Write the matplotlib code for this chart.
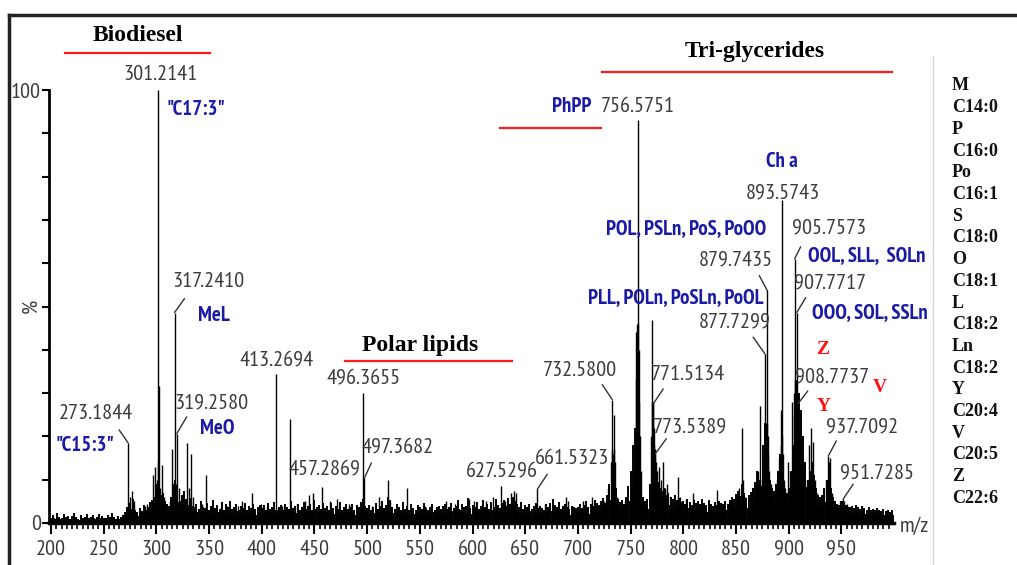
import numpy as np
import matplotlib.pyplot as plt
from matplotlib import font_manager

# mass spectrum: m/z and relative intensity (%) of the main peaks
peak_mz = [273.2, 275, 277, 279, 289, 291, 297, 299, 300.5, 301.2, 301.7, 302.2, 303, 305, 307,
           313, 315, 316.5, 317.2, 318.2, 319.3, 321, 329, 331, 333, 335, 343, 347, 353, 361,
           367, 377, 381, 391, 399, 405, 413.3, 419, 427, 433, 441, 445, 449, 457.3, 465, 471,
           483, 496.4, 497.4, 505, 511, 520, 522, 538, 555, 575, 583, 597, 601, 613, 619,
           627.5, 631, 637, 639, 641, 661.5, 669, 689, 691, 705, 713, 725, 729,
           731.6, 732.1, 732.6, 733.1, 734.1, 734.6, 735.1, 737, 745, 753,
           755, 755.6, 756.1, 756.6, 757.1, 757.6, 758.2, 759, 760, 763,
           769.5, 770.0, 770.5, 771.0, 771.5, 772.0, 772.5, 773.0, 773.5, 774.5, 775, 777, 779,
           781, 783, 785, 787, 795, 797, 803, 809, 832, 845, 851, 853, 856, 857, 859, 865, 869,
           871, 873, 875, 876.7, 877.2, 877.7, 878.2, 878.7, 879.2, 879.7, 880.2, 880.7, 881.7,
           883, 885, 887, 889, 891, 892.6, 893.1, 893.6, 894.1, 894.6, 895.6, 897, 899, 901,
           903.6, 904.7, 905.2, 905.7, 906.2, 906.7, 907.2, 907.7, 908.2, 908.7, 909.5, 911, 913,
           917, 919, 921, 922, 923, 925, 927, 931, 935, 937.7, 938.7, 939.7, 941, 943, 949,
           951.7, 953, 955, 961, 965, 971, 985]
peak_int = [18.5, 6, 7.5, 5, 4, 4.5, 11, 13, 10, 100, 14, 31.7, 8, 13.5, 6,
            5, 17, 9, 48.6, 9, 20.6, 8, 18.5, 8, 16, 6, 4.5, 11, 4, 4,
            4, 4, 5, 7, 4.5, 4, 34.5, 4, 24, 4.5, 5, 6.5, 7, 8.3, 5, 5.5,
            4.5, 30, 10.4, 4, 6, 10, 5, 8, 4, 5, 4.5, 5.5, 5, 5, 6,
            8.5, 5, 7, 7.5, 7, 7.8, 4.5, 6, 5, 5, 6, 5, 8,
            14, 17, 28.5, 16, 17, 25, 14, 6, 5, 12,
            33, 44, 46, 93, 46, 40, 28, 20, 12, 5,
            20, 46.8, 28, 28, 27.5, 22, 18, 17, 16, 14, 12, 13, 10,
            14, 8, 9, 6, 10.6, 6, 5.5, 7, 7.6, 5, 6, 8, 22, 10, 6, 7, 9,
            12, 27, 10, 15, 20, 39, 22, 23, 23, 53.7, 20, 16, 12,
            9, 6, 6, 10, 15, 18, 26, 74.5, 20, 16, 10, 8, 14, 12,
            28, 25, 30, 61, 33, 33, 33, 48.6, 30, 27.5, 20, 12, 8,
            10, 18, 22, 14, 18.7, 10, 7, 6, 10, 15.5, 14, 15, 7, 5, 5,
            5.5, 5, 4.5, 3.5, 3.5, 3, 3]

# baseline noise, one value every 2 m/z from 200 to 998
noise_mz = np.arange(200, 1000, 2)
noise_int = [1.2, 1.8, 1.0, 2.2, 1.5, 1.1, 2.0, 1.4, 1.7, 1.0, 1.6, 2.4, 1.3, 1.0, 1.9, 1.2, 1.5, 2.1, 1.1, 1.4,
             1.8, 1.0, 1.3, 2.0, 1.6, 1.2, 1.1, 1.9, 1.4, 2.3, 1.5, 1.0, 1.7, 1.3, 1.8, 2.6, 3.8, 4.6, 3.2, 5.5,
             3.0, 2.6, 3.4, 2.8, 4.2, 3.1, 3.6, 4.8, 5.2, 6.0,
             9.0, 8.0, 6.5, 7.0, 5.0, 4.5, 4.0, 6.0, 9.0, 10.0, 8.0, 5.0, 6.5, 7.5, 5.5, 4.2, 5.8, 4.0, 3.6, 4.4,
             3.2, 5.0, 3.8, 3.4, 4.6, 3.0, 3.9, 5.2, 3.5, 4.1, 3.3, 4.8, 3.0, 4.3, 3.6, 5.1, 3.2, 3.8, 4.5, 3.1,
             4.0, 3.4, 4.7, 3.0, 3.9, 3.5, 4.4, 3.2, 3.7, 4.2,
             3.5, 4.1, 3.0, 4.6, 3.3, 3.8, 4.9, 3.1, 3.6, 4.2, 3.0, 4.4, 3.7, 3.2, 5.0, 3.5, 3.9, 4.3, 3.1, 3.6,
             4.8, 3.3, 3.9, 4.5, 3.0, 5.4, 3.6, 4.1, 3.2, 4.7, 3.4, 3.9, 3.0, 4.6, 3.5, 4.0, 3.3, 4.8, 3.1, 3.7,
             4.3, 3.2, 3.8, 4.5, 3.0, 4.1, 3.6, 4.9, 5.5, 4.0,
             3.4, 4.2, 3.1, 3.8, 4.6, 3.2, 3.9, 5.0, 3.5, 4.1, 6.0, 5.2, 3.8, 3.2, 4.4, 3.6, 3.0, 4.8, 3.3, 3.9,
             3.1, 4.5, 3.4, 3.0, 4.1, 3.6, 3.2, 4.7, 3.5, 3.0, 3.8, 4.3, 3.1, 3.6, 4.0, 3.3, 3.9, 4.4, 3.2, 3.7,
             4.6, 3.4, 3.9, 5.2, 3.1, 4.5, 3.6, 4.0, 5.8, 3.5,
             4.2, 3.6, 4.8, 3.3, 4.0, 5.4, 3.7, 4.4, 3.2, 4.9, 3.8, 5.6, 4.1, 3.5, 4.6, 5.2, 3.9, 5.8, 4.3, 6.0,
             5.1, 4.4, 3.6, 4.8, 3.3, 4.1, 3.7, 4.5, 3.2, 3.9, 4.6, 3.4, 4.0, 3.5, 3.1, 4.3, 3.8, 4.7, 5.5, 4.2,
             3.6, 4.9, 3.3, 3.9, 4.4, 3.6, 3.2, 4.0, 3.7, 3.4,
             3.8, 4.5, 3.4, 4.1, 5.0, 3.6, 4.4, 3.9, 5.2, 4.7, 4.2, 5.0, 5.8, 4.6, 6.4, 9.0, 14.0, 12.0, 8.0, 5.5,
             4.8, 5.2, 4.4, 6.0, 8.5, 12.0, 18.0, 22.0, 14.0, 9.0, 7.0, 6.0, 5.0, 5.5, 9.0, 14.0, 12.0, 10.0, 9.5, 8.0,
             7.5, 8.0, 6.5, 7.0, 6.0, 5.5, 6.5, 5.2, 5.8, 4.8,
             5.0, 4.4, 5.6, 4.8, 4.2, 5.2, 4.6, 5.0, 4.3, 5.5, 4.7, 4.1, 5.3, 4.5, 4.0, 4.8, 4.2, 5.1, 4.6, 4.4,
             5.0, 4.3, 5.4, 6.0, 5.5, 6.8, 7.5, 6.2, 9.0, 7.0, 5.8, 6.4, 7.2, 8.0, 9.5, 12.0, 10.0, 8.5, 18.0, 23.0,
             14.0, 10.0, 8.0, 7.5, 9.0, 12.0, 16.0, 11.0, 8.5, 7.0,
             8.0, 12.0, 18.0, 24.0, 30.0, 30.0, 26.0, 20.0, 14.0, 10.0, 12.0, 14.0, 11.0, 8.0, 6.5, 6.0, 6.5, 8.0, 10.0, 11.0,
             8.0, 6.0, 5.0, 4.5, 4.2, 5.0, 5.0, 4.2, 3.8, 3.6, 4.0, 3.5, 4.2, 3.6, 3.2, 3.9, 3.4, 3.0, 3.6, 3.1,
             3.3, 2.9, 3.5, 3.0, 2.8, 3.2, 2.7, 3.0, 2.6, 2.9]

# labelled peaks: text, peak m/z, peak height, text position, leader offset (pixels)
mz_labels = ["273.1844", "301.2141", "317.2410", "319.2580", "413.2694", "457.2869", "496.3655",
             "497.3682", "627.5296", "661.5323", "732.5800", "756.5751", "771.5134", "773.5389",
             "877.7299", "879.7435", "893.5743", "905.7573", "907.7717", "908.7737", "937.7092", "951.7285"]
label_peak_mz = [273.2, 301.2, 317.2, 319.3, 413.3, 457.3, 496.4, 497.4, 627.5, 661.5, 732.6, 756.6,
                 771.5, 773.5, 877.7, 879.7, 893.6, 905.7, 907.7, 908.7, 937.7, 951.7]
label_peak_int = [18.5, 100, 48.6, 20.6, 34.5, 8.3, 30, 10.4, 8.5, 7.8, 28.5, 93, 27.5, 16,
                  39, 53.7, 74.5, 61, 48.6, 27.5, 15.5, 5.5]
label_x = [242.7, 303.4, 349.0, 351.8, 414.4, 460.0, 497.0, 529.2, 627.9, 694.3, 701.9, 756.9,
           804.4, 806.3, 849.0, 849.9, 894.5, 938.1, 939.1, 941.0, 969.5, 983.7]
label_y = [25.4, 103.5, 55.7, 27.7, 37.4, 12.2, 33.3, 17.3, 11.8, 15.0, 35.3, 96.1,
           34.2, 22.2, 46.4, 60.7, 76.2, 68.1, 55.4, 33.7, 22.2, 11.5]
leader_dx = [-9, 0, 10, 10, 0, 0, 0, 7, 0, 10, -10, 0, 10, 11, -12, -8, 0, 6, 9, 10, 8, 10]
leader_dy = [13, 0, 14, 17, 0, 0, 0, 15, 0, 15, 15, 0, 15, 15, 17, 15, 0, 12, 15, 13, 15, 15]

# blue compound annotations
blue_labels = ['"C17:3"', 'MeL', '"C15:3"', 'MeO', 'PhPP', 'POL, PSLn, PoS, PoOO',
               'PLL, POLn, PoSLn, PoOL', 'Ch a', 'OOL, SLL,  SOLn', 'OOO, SOL, SSLn']
blue_x = [337.6, 354.6, 232.3, 357.5, 694.3, 802.5, 793.0, 893.5, 974.2, 977.0]
blue_y = [95.4, 48.0, 18.0, 21.9, 96.1, 68.1, 52.0, 83.4, 61.7, 48.5]

# section headings with red rule underneath
sections = ["Biodiesel", "Tri-glycerides", "Polar lipids"]
section_x = [282.5, 868.0, 550.0]
section_y = [112.7, 108.8, 41.1]
rule_start = [213.3, 722.8, 478.9, 626.0]
rule_end = [350.9, 997.9, 637.4, 721.8]
rule_y = [108.5, 104.2, 37.4, 91.2]

red_letters = ["Z", "V", "Y"]
red_x = [932.4, 986.5, 933.4]
red_y = [40.0, 31.4, 26.8]

legend_lines = ["M", "C14:0", "P", "C16:0", "Po", "C16:1", "S", "C18:0", "O", "C18:1",
                "L", "C18:2", "Ln", "C18:2", "Y", "C20:4", "V", "C20:5", "Z", "C22:6"]

names = {f.name for f in font_manager.fontManager.ttflist}
narrow = "Liberation Sans"
for cand in ["Liberation Sans Narrow", "Arial Narrow", "PT Sans Narrow", "Roboto Condensed",
             "Archivo Narrow", "Asap Condensed"]:
    if cand in names:
        narrow = cand
        break
serif = "Times New Roman" if "Times New Roman" in names else "Liberation Serif"
gray = "#3e3a40"
blue = "#1a1aa6"

fig = plt.figure(figsize=(10.17, 5.65), dpi=100)
ax = fig.add_axes([49 / 1017, 42 / 565, 845 / 1017, 433 / 565])

ax.vlines(noise_mz, 0, noise_int, color="black", lw=1.4)
ax.vlines(noise_mz + 1, 0, np.array(noise_int) * 0.6, color="black", lw=1.4)
ax.vlines(peak_mz, 0, peak_int, color="black", lw=1.0)

ax.set_xlim(198.1, 1000)
ax.set_ylim(0, 100)
for s in ["top", "right"]:
    ax.spines[s].set_visible(False)
ax.spines["left"].set_linewidth(2)
ax.spines["bottom"].set_linewidth(2.5)

ax.set_xticks(np.arange(200, 1000, 50))
ax.set_xticks(np.arange(200, 1000, 5), minor=True)
ax.set_yticks(np.arange(0, 101, 10))
ylabels = [""] * 11
ylabels[0] = "0"
ylabels[5] = "%"
ylabels[10] = "100"
ax.set_yticklabels(ylabels)
ax.get_yticklabels()[5].set_rotation(90)
ax.tick_params(axis="x", which="major", length=8, width=1.5, direction="out", pad=4,
               labelsize=16, labelcolor=gray)
ax.tick_params(axis="x", which="minor", length=4, width=1.2, direction="out")
ax.tick_params(axis="y", length=5, width=1.5, direction="out", pad=1, labelsize=16, labelcolor=gray)
for t in ax.get_xticklabels() + ax.get_yticklabels():
    t.set_family(narrow)

for i, lab in enumerate(mz_labels):
    ax.text(label_x[i], label_y[i], lab, ha="center", va="center", fontsize=16,
            family=narrow, color=gray)
    if leader_dx[i] != 0:
        ax.annotate("", xy=(label_peak_mz[i], label_peak_int[i]), xytext=(leader_dx[i], leader_dy[i]),
                    textcoords="offset pixels", annotation_clip=False,
                    arrowprops=dict(arrowstyle="-", color="#333333", lw=1.0, shrinkA=0, shrinkB=0))

for i, lab in enumerate(blue_labels):
    ax.text(blue_x[i], blue_y[i], lab, ha="center", va="center", fontsize=15,
            family=narrow, weight="bold", color=blue)

for i, lab in enumerate(sections):
    ax.text(section_x[i], section_y[i], lab, ha="center", va="center", fontsize=17,
            family=serif, weight="bold", color="black")
for i in range(len(rule_y)):
    ax.plot([rule_start[i], rule_end[i]], [rule_y[i], rule_y[i]], color="#ff1a1a", lw=1.6,
            clip_on=False)

for i, lab in enumerate(red_letters):
    ax.text(red_x[i], red_y[i], lab, ha="center", va="center", fontsize=14,
            family=serif, weight="bold", color="#ff1010")

ax.text(1019.7, -0.9, "m/z", ha="center", va="center", fontsize=16, family=narrow, color=gray)

# legend of fatty acid codes on the right
for i, lab in enumerate(legend_lines):
    fig.text(952 / 1017, 1 - (86 + 21.7 * i) / 565, lab, ha="left", va="center", fontsize=13,
             family=serif, weight="bold", color="#111111")

# picture frame
fig.add_artist(plt.Line2D([9 / 1017, 1], [1 - 15 / 565, 1 - 15 / 565], color="#222222", lw=2.5))
fig.add_artist(plt.Line2D([9 / 1017, 9 / 1017], [0, 1 - 15 / 565], color="#222222", lw=2.5))
fig.add_artist(plt.Line2D([933 / 1017, 933 / 1017], [0, 1 - 56 / 565], color="#d8d8d8", lw=1))

fig.savefig("out.png", dpi=100)
